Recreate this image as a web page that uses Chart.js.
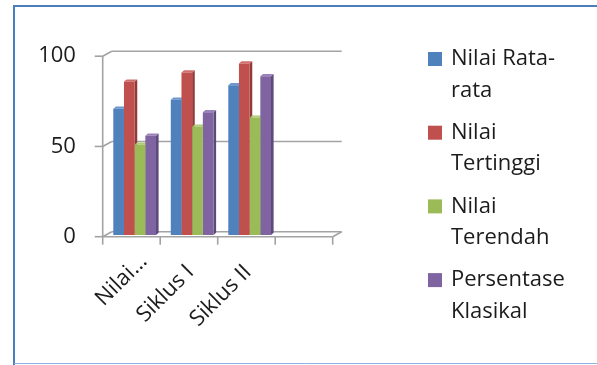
<!DOCTYPE html>
<html>
<head>
<meta charset="utf-8">
<script src="https://cdn.jsdelivr.net/npm/chart.js@4/dist/chart.umd.min.js"></script>
<style>
  html, body { margin: 0; padding: 0; background: #fff; }
  #wrap { width: 597px; height: 365px; }
</style>
</head>
<body>
<div id="wrap"><canvas id="c" width="597" height="365"></canvas></div>
<script>
// Categories along the x axis (the last slot is an empty category)
const categories = ['Nilai…', 'Siklus I', 'Siklus II', ''];

// Series values per category
const nilaiRataRata   = [70, 75, 83, null];
const nilaiTertinggi  = [85, 90, 95, null];
const nilaiTerendah   = [50, 60, 65, null];
const persenKlasikal  = [55, 68, 88, null];

const seriesNames = ['Nilai Rata-rata', 'Nilai Tertinggi', 'Nilai Terendah', 'Persentase Klasikal'];
const legendLines = [['Nilai Rata-', 'rata'], ['Nilai', 'Tertinggi'], ['Nilai', 'Terendah'], ['Persentase', 'Klasikal']];

// Y axis ticks
const yTicks = [0, 50, 100];

const FONT = '"Open Sans", Lato, sans-serif';
const FONT_SIZE = 22;
const FONT_WEIGHT = 500;
const TEXT = '#1c1c1c';
const GRID = '#a3a3a3';

const faceColors = ['#4F81BD', '#C0504D', '#9BBB59', '#8064A2'];
const sideColors = ['#3a6190', '#923a37', '#728c40', '#5e4a7a'];
const topColors  = ['#6c98cf', '#d06f6c', '#b0cc78', '#9a82ba'];

// Depth of the plot box relative to the bar plane
const FRONT = { dx: -3.2, dy: 1.7 };
const BACK  = { dx: 5.8,  dy: -3.3 };
// Depth of each bar
const BAR_D = { dx: 2.6, dy: -2.2 };

function line(ctx, x1, y1, x2, y2) {
  ctx.beginPath(); ctx.moveTo(x1, y1); ctx.lineTo(x2, y2); ctx.stroke();
}
function poly(ctx, pts, color) {
  ctx.beginPath();
  ctx.moveTo(pts[0][0], pts[0][1]);
  for (let i = 1; i < pts.length; i++) ctx.lineTo(pts[i][0], pts[i][1]);
  ctx.closePath();
  ctx.fillStyle = color; ctx.fill();
}

const frame3d = {
  id: 'frame3d',
  beforeDraw(chart) {
    const ctx = chart.ctx;
    ctx.save();
    ctx.fillStyle = '#fff';
    ctx.fillRect(0, 0, chart.width, chart.height);
    // outer border
    ctx.strokeStyle = '#4a7ebf';
    ctx.lineWidth = 2;
    ctx.beginPath();
    ctx.moveTo(14, 365); ctx.lineTo(14, 6); ctx.lineTo(597, 6);
    ctx.stroke();
    ctx.strokeStyle = '#8db3e2';
    ctx.lineWidth = 1;
    line(ctx, 14, 363.5, 597, 363.5);
    ctx.restore();
  },
  beforeDatasetsDraw(chart) {
    const ctx = chart.ctx;
    const y = chart.scales.y;
    const L = chart.chartArea.left, R = chart.chartArea.right;
    ctx.save();
    ctx.strokeStyle = GRID;
    ctx.lineWidth = 1.6;
    ctx.lineCap = 'butt';
    // back wall gridlines and side wall diagonals
    yTicks.forEach(v => {
      const py = y.getPixelForValue(v);
      line(ctx, L + BACK.dx, py + BACK.dy, R + BACK.dx, py + BACK.dy);
      line(ctx, L + FRONT.dx, py + FRONT.dy, L + BACK.dx, py + BACK.dy);
      // tick on the value axis
      line(ctx, L + FRONT.dx - 8, py + FRONT.dy, L + FRONT.dx, py + FRONT.dy);
    });
    const y0 = y.getPixelForValue(0), y100 = y.getPixelForValue(100);
    // front value axis
    line(ctx, L + FRONT.dx, y100 + FRONT.dy, L + FRONT.dx, y0 + FRONT.dy);
    // floor front edge and right diagonal
    line(ctx, L + FRONT.dx, y0 + FRONT.dy, R + FRONT.dx, y0 + FRONT.dy);
    line(ctx, R + FRONT.dx, y0 + FRONT.dy, R + BACK.dx, y0 + BACK.dy);
    // category ticks
    const n = categories.length;
    const step = (R - L) / n;
    for (let i = 0; i <= n; i++) {
      const px = L + FRONT.dx + step * i;
      line(ctx, px, y0 + FRONT.dy, px, y0 + FRONT.dy + 8);
    }
    ctx.restore();

    // bar tops and sides
    ctx.save();
    for (let c = 0; c < n; c++) {
      chart.data.datasets.forEach((ds, di) => {
        const el = chart.getDatasetMeta(di).data[c];
        if (!el || ds.data[c] == null) return;
        const w = el.width;
        const xl = el.x - w / 2, xr = el.x + w / 2, top = el.y, base = el.base;
        poly(ctx, [[xr, top], [xr + BAR_D.dx, top + BAR_D.dy], [xr + BAR_D.dx, base + BAR_D.dy], [xr, base]], sideColors[di]);
        poly(ctx, [[xl, top], [xr, top], [xr + BAR_D.dx, top + BAR_D.dy], [xl + BAR_D.dx, top + BAR_D.dy]], topColors[di]);
      });
    }
    ctx.restore();
  },
  afterDraw(chart) {
    const ctx = chart.ctx;
    const x = chart.scales.x, y = chart.scales.y;
    const y0 = y.getPixelForValue(0);
    ctx.save();
    ctx.font = FONT_WEIGHT + ' ' + FONT_SIZE + 'px ' + FONT;
    ctx.fillStyle = TEXT;
    // rotated category labels, the end of each label sits under its category
    const widths = categories.map(t => ctx.measureText(t).width);
    const maxW = Math.max(...widths);
    categories.forEach((t, i) => {
      if (!t) return;
      const px = x.getPixelForValue(i) + FRONT.dx;
      // a shortened label is centred in the space of the longest one
      const shift = t.endsWith('…') ? (maxW - widths[i]) / 2 + 8 : 0;
      ctx.save();
      ctx.translate(px + 1.5, y0 + FRONT.dy + 32);
      ctx.rotate(-Math.PI / 4);
      ctx.textAlign = 'right';
      ctx.textBaseline = 'middle';
      ctx.fillText(t, shift, 0);
      ctx.restore();
    });
    // legend
    const bx = 428, tx = 451;
    let cy = 59;
    legendLines.forEach((lines, i) => {
      ctx.fillStyle = faceColors[i];
      ctx.fillRect(bx, cy - 7, 14, 14);
      ctx.fillStyle = TEXT;
      ctx.textAlign = 'left';
      ctx.textBaseline = 'middle';
      lines.forEach((s, k) => ctx.fillText(s, tx, cy + k * 31.5));
      cy += 73.7;
    });
    ctx.restore();
  }
};

const datasets = [nilaiRataRata, nilaiTertinggi, nilaiTerendah, persenKlasikal].map((d, i) => ({
  label: seriesNames[i],
  data: d,
  backgroundColor: faceColors[i],
  borderWidth: 0,
  categoryPercentage: 0.743,
  barPercentage: 1.0
}));

new Chart(document.getElementById('c'), {
  type: 'bar',
  data: { labels: categories, datasets },
  plugins: [frame3d],
  options: {
    responsive: false,
    animation: false,
    layout: { padding: { left: 0, top: 54.5, right: 597 - 335.9, bottom: 130 } },
    plugins: { legend: { display: false }, tooltip: { enabled: false } },
    scales: {
      x: { display: false },
      y: {
        min: 0, max: 100,
        afterFit: s => { s.width = 105.9; },
        afterBuildTicks: s => { s.ticks = yTicks.map(v => ({ value: v })); },
        grid: { display: false, drawTicks: false },
        border: { display: false },
        ticks: {
          padding: 30,
          labelOffset: 1.7,
          color: TEXT,
          font: { family: FONT, size: FONT_SIZE, weight: FONT_WEIGHT }
        }
      }
    }
  }
});
</script>
</body>
</html>
